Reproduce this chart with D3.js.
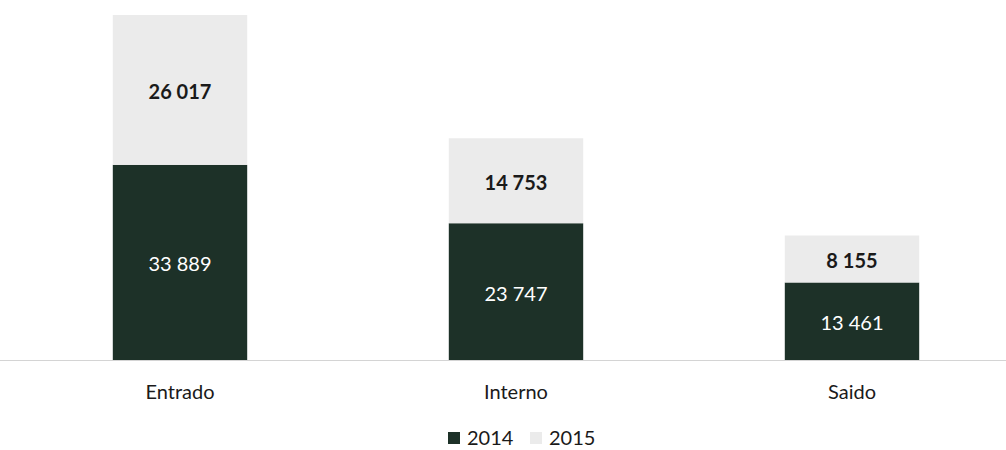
<!DOCTYPE html>
<html>
<head>
<meta charset="utf-8">
<script src="https://cdn.jsdelivr.net/npm/d3@7"></script>
<style>
  body { margin: 0; background: #fff; }
  svg { display: block; font-family: Lato, "Open Sans", sans-serif; }
</style>
</head>
<body>
<svg id="chart"></svg>
<script>
const categories = ['Entrado', 'Interno', 'Saido'];
const years = ['2014', '2015'];
const values2014 = [33889, 23747, 13461];
const values2015 = [26017, 14753, 8155];

const width = 1006;
const height = 450;
const colors = { '2014': '#1d3128', '2015': '#ebebeb' };
const textColors = { '2014': '#ffffff', '2015': '#1a1a1a' };
const weights = { '2014': 'normal', '2015': 'bold' };

// number format with a space as thousands separator
const fmt = (v) => d3.format(',')(v).replace(/,/g, ' ');

const svg = d3.select('#chart')
    .attr('width', width)
    .attr('height', height);

const rows = categories.map((c, i) => ({ cat: c, '2014': values2014[i], '2015': values2015[i] }));
const stacked = d3.stack().keys(years)(rows);

const x = d3.scaleBand()
    .domain(categories)
    .range([12, 1020])
    .paddingInner(0.6)
    .paddingOuter(0.3);

const y = d3.scaleLinear()
    .domain([0, 59906])
    .range([360, 15]);

// baseline
svg.append('line')
    .attr('x1', 0).attr('x2', width)
    .attr('y1', y(0) + 0.5).attr('y2', y(0) + 0.5)
    .style('stroke', '#d4d4d4')
    .style('stroke-width', 1);

const layers = svg.selectAll('.layer')
    .data(stacked)
    .enter()
    .append('g')
    .attr('class', 'layer');

layers.selectAll('rect')
    .data((s) => s.map((d) => ({ key: s.key, d })))
    .enter()
    .append('rect')
    .attr('x', (e) => x(e.d.data.cat))
    .attr('width', x.bandwidth())
    .attr('y', (e) => y(e.d[1]))
    .attr('height', (e) => y(e.d[0]) - y(e.d[1]))
    .style('fill', (e) => colors[e.key]);

layers.selectAll('text')
    .data((s) => s.map((d) => ({ key: s.key, d })))
    .enter()
    .append('text')
    .attr('x', (e) => x(e.d.data.cat) + x.bandwidth() / 2)
    .attr('y', (e) => (y(e.d[0]) + y(e.d[1])) / 2 + 2)
    .attr('dy', '0.35em')
    .style('text-anchor', 'middle')
    .attr('font-size', 20)
    .attr('font-weight', (e) => weights[e.key])
    .attr('fill', (e) => textColors[e.key])
    .text((e) => fmt(e.d.data[e.key]));

// category axis
const xAxis = svg.append('g')
    .attr('transform', `translate(0,${y(0)})`)
    .call(d3.axisBottom(x).tickSize(0).tickPadding(25));
xAxis.select('.domain').remove();
xAxis.selectAll('text')
    .attr('font-size', 20)
    .attr('font-family', 'Lato, "Open Sans", sans-serif')
    .attr('fill', '#1a1a1a');

// legend
const legend = svg.append('g')
    .attr('transform', 'translate(448,438)');
const items = legend.selectAll('.item')
    .data(years)
    .enter()
    .append('g')
    .attr('class', 'item')
    .attr('transform', (d, i) => `translate(${i * 82},0)`);
items.append('rect')
    .attr('x', 0).attr('y', -6)
    .attr('width', 12).attr('height', 12)
    .style('fill', (d) => colors[d]);
items.append('text')
    .attr('x', 19)
    .attr('dy', '0.35em')
    .attr('font-size', 20)
    .attr('fill', '#1a1a1a')
    .text((d) => d);
</script>
</body>
</html>
